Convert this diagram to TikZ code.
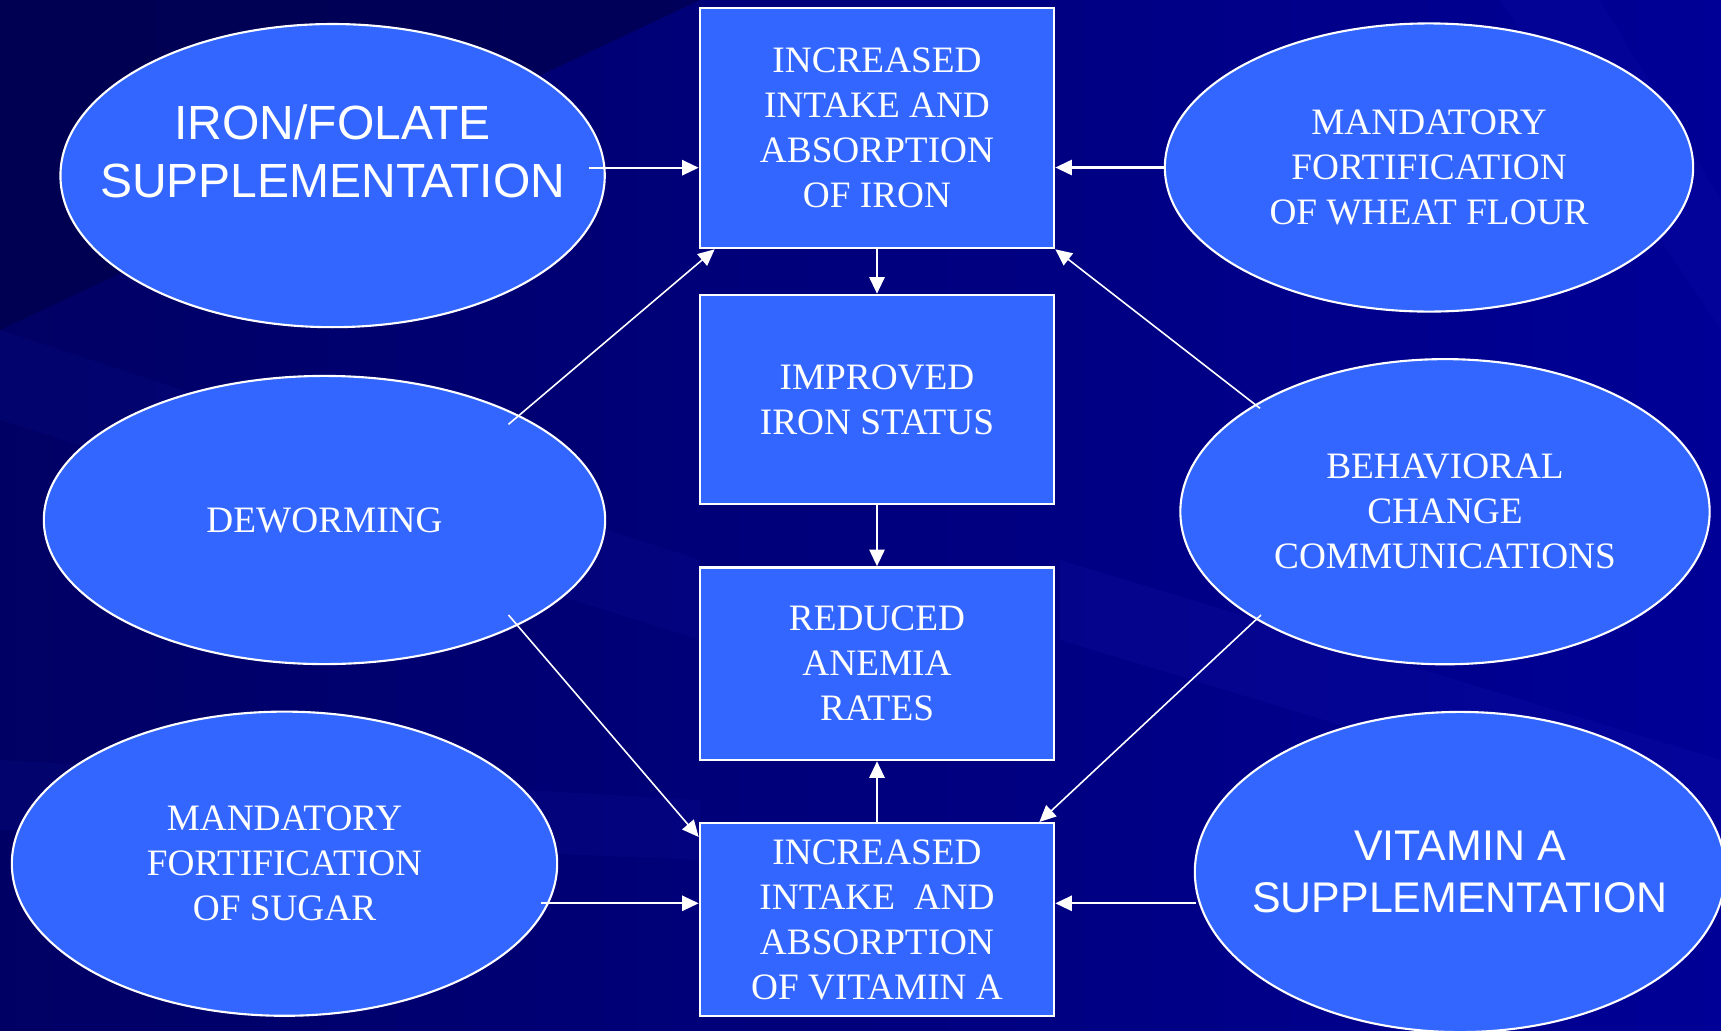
\documentclass[tikz,border=0pt]{standalone}
\usepackage{fontspec}
\setmainfont{Liberation Serif}
\newfontfamily\arialf{Liberation Sans}
\usetikzlibrary{arrows.meta,calc,shapes.geometric}
\definecolor{bgdark}{RGB}{0,0,70}
\definecolor{bgleft}{RGB}{0,0,100}
\definecolor{bgmid}{RGB}{0,0,125}
\definecolor{bglight}{RGB}{0,0,150}
\definecolor{streak}{RGB}{30,30,190}
\definecolor{boxblue}{RGB}{51,102,255}
\begin{document}
\begin{tikzpicture}[x=0.01cm,y=-0.01cm,
  stepbox/.style={draw=white,line width=0.7pt,fill=boxblue,text=white,
    minimum width=3.54cm,inner sep=0pt,align=center,
    font=\fontsize{10.6}{12.8}\selectfont},
  oval/.style={ellipse,draw=white,line width=0.6pt,fill=boxblue,text=white,
    inner sep=0pt,align=center,font=\fontsize{10.6}{12.8}\selectfont},
  ovaltext/.style={text=white,align=center,inner sep=0pt},
  arr/.style={white,line width=0.65pt,-{Triangle[length=4.7pt,width=4.3pt]}},
  darr/.style={white,line width=0.45pt,-{Triangle[length=4.7pt,width=4.3pt]}}]
\useasboundingbox (0,0) rectangle (1721,1030);
% background
\shade[left color=bgleft,right color=bglight,middle color=bgmid] (0,0) rectangle (1721,1030);
\fill[streak,opacity=0.10] (0,330) -- (700,560) -- (700,640) -- (0,420) -- cycle;
\fill[streak,opacity=0.10] (0,760) -- (700,800) -- (700,860) -- (0,830) -- cycle;
\fill[streak,opacity=0.14] (1060,560) -- (1721,760) -- (1721,840) -- (1060,640) -- cycle;
\fill[streak,opacity=0.12] (1500,0) -- (1600,0) -- (1721,200) -- (1721,330) -- cycle;
\fill[bgdark,opacity=0.6] (0,0) -- (700,0) -- (0,330) -- cycle;
% boxes
\node[stepbox,minimum height=2.40cm] (b1) at (877,128) {INCREASED\\INTAKE AND\\ABSORPTION\\OF IRON};
\node[stepbox,minimum height=2.09cm] (b2) at (877,399.5) {IMPROVED\\IRON STATUS};
\node[stepbox,minimum height=1.925cm] (b3) at (877,663.7) {REDUCED\\ANEMIA\\RATES};
\node[stepbox,minimum height=1.925cm] (b4) at (877,919.5) {INCREASED\\INTAKE\ \ AND\\ABSORPTION\\OF VITAMIN A};
% ellipses
\node[oval,minimum width=5.44cm,minimum height=3.03cm] (e1) at (332.6,175.6) {};
\node[ovaltext,font=\arialf\fontsize{13.65}{16.5}\selectfont] (e1t) at (332.6,151) {IRON/FOLATE\\SUPPLEMENTATION};
\node[oval,minimum width=5.61cm,minimum height=2.88cm] (e2) at (324.5,520) {DEWORMING};
\node[oval,minimum width=5.45cm,minimum height=3.04cm] (e3) at (284.5,863.7) {MANDATORY\\FORTIFICATION\\OF SUGAR};
\node[oval,minimum width=5.28cm,minimum height=2.88cm] (e4) at (1429,167.5) {MANDATORY\\FORTIFICATION\\OF WHEAT FLOUR};
\node[oval,minimum width=5.29cm,minimum height=3.05cm] (e5) at (1445,511.7) {BEHAVIORAL\\CHANGE\\COMMUNICATIONS};
\node[oval,minimum width=5.30cm,minimum height=3.20cm] (e6) at (1460,872) {};
\node[ovaltext,font=\arialf\fontsize{12.2}{14.7}\selectfont] (e6t) at (1460,872) {VITAMIN A\\SUPPLEMENTATION};
% free ends
\coordinate (s1) at (588.6,167.7);
\coordinate (s6) at (508.5,424.3);
\coordinate (s7) at (508.5,615);
\coordinate (s8) at (1260,408.3);
\coordinate (s9) at (1261,615);
\coordinate (s10) at (541.4,903.3);
\coordinate (s11) at (1196,903.3);
% connectors
\draw[arr] (s1) -- (s1 -| b1.west);
\draw[arr] (e4.west) -- (e4.west -| b1.east);
\draw[arr] (b1.south) -- (b2.north);
\draw[arr] (b2.south) -- (b3.north);
\draw[arr] (b4.north) -- (b3.south);
\draw[darr] (s6) -- ($(b1.south west)+(16,0)$);
\draw[darr] (s7) -- ($(b4.north west)+(0,15)$);
\draw[darr] (s8) -- (b1.south east);
\draw[darr] (s9) -- ($(b4.north east)+(-16,0)$);
\draw[arr] (s10) -- (s10 -| b4.west);
\draw[arr] (s11) -- (s11 -| b4.east);
\end{tikzpicture}
\end{document}
